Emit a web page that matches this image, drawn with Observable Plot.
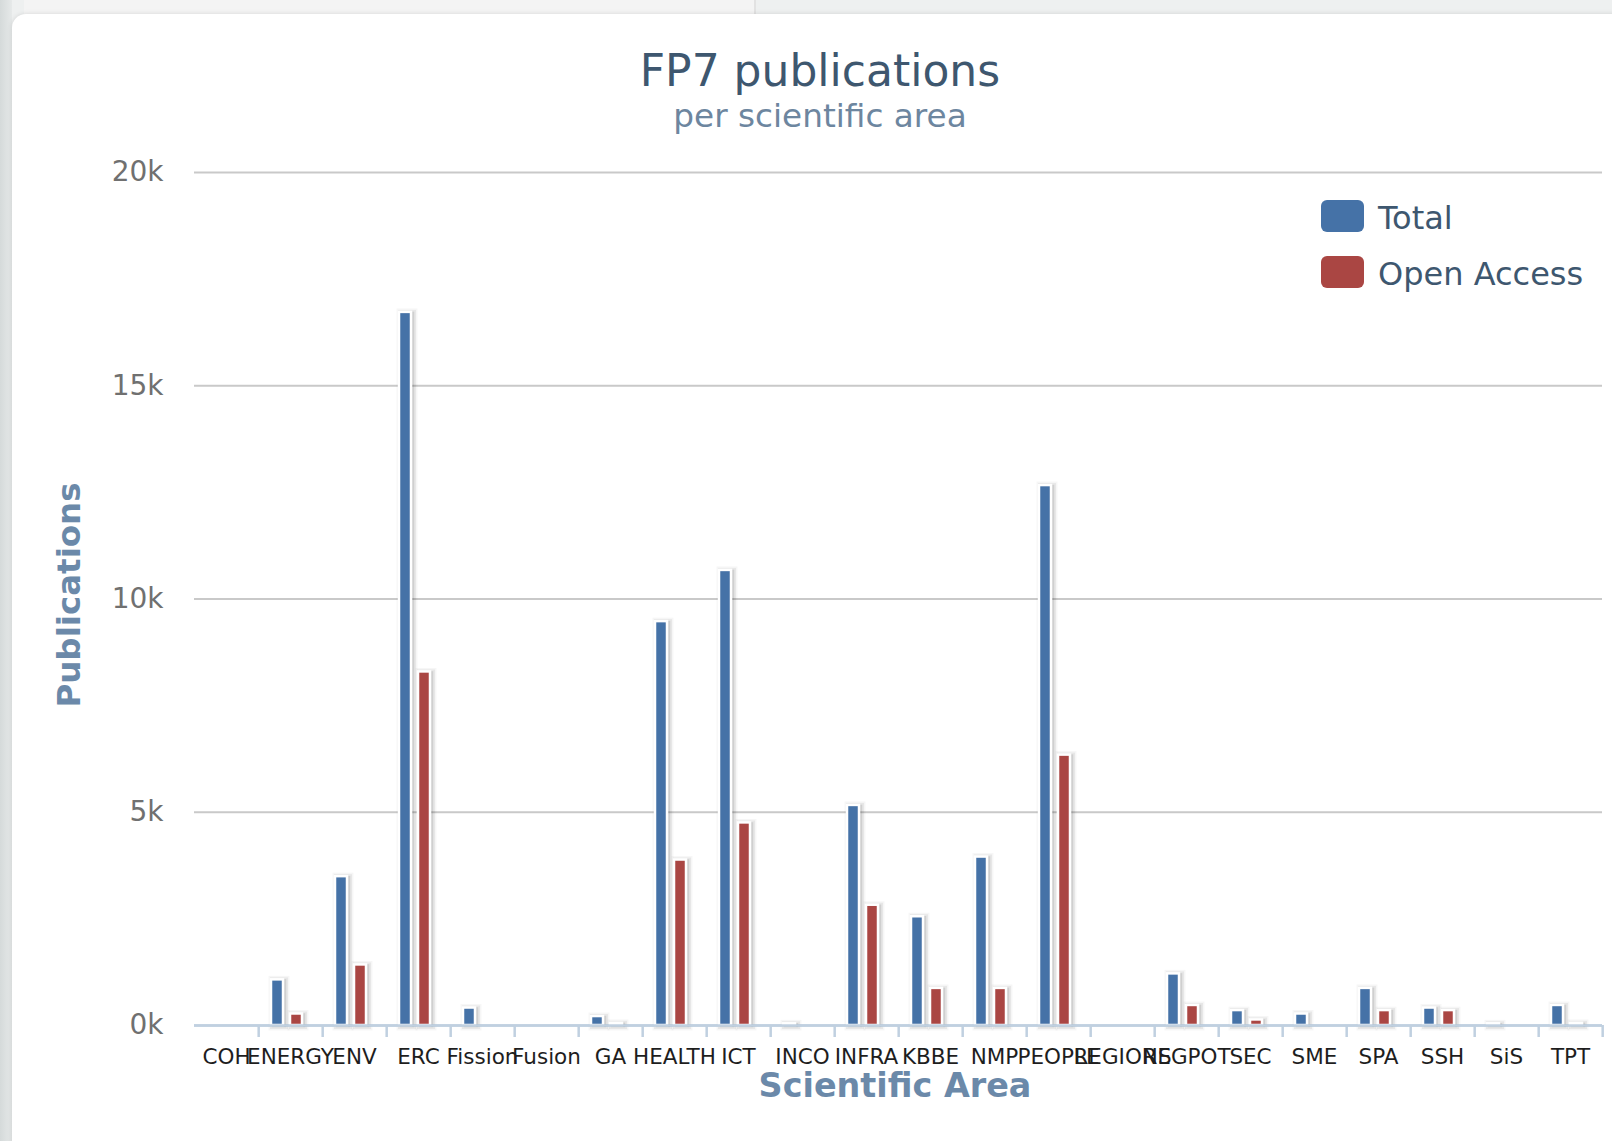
<!DOCTYPE html>
<html>
<head>
<meta charset="utf-8">
<script src="https://cdn.jsdelivr.net/npm/d3@7"></script>
<script src="https://cdn.jsdelivr.net/npm/@observablehq/plot@0.6"></script>
<style>
  html, body { margin: 0; padding: 0; }
  body { width: 1612px; height: 1141px; overflow: hidden; position: relative;
         background: #eef0f0; font-family: "DejaVu Sans", sans-serif; }
  #leftstrip { position: absolute; left: 0; top: 0; width: 12px; height: 1141px;
               background: linear-gradient(to right, #d5dada, #e6e9e9); }
  #backcard { position: absolute; left: 24px; top: -30px; width: 730px; height: 44px;
              background: #f4f4f4; border-right: 2px solid #e2e2e2; }
  #card { position: absolute; left: 12px; top: 14px; width: 1660px; height: 1180px;
          background: #fff; border-radius: 14px; box-shadow: 0 0 5px rgba(0,0,0,0.12); }
  .abs { position: absolute; white-space: nowrap; line-height: 1; }
  #title { left: 0; width: 1640px; text-align: center; top: 49px; font-size: 44px; color: #3E576F; }
  #subtitle { left: 0; width: 1640px; text-align: center; top: 100px; font-size: 32.7px; color: #6D869F; }
  #chart { position: absolute; left: 0; top: 140px; }
  #ytitle { left: 69px; top: 595px; font-size: 32.5px; font-weight: bold; color: #6b89a9;
            transform: translate(-50%, -50%) rotate(-90deg); }
  #xtitle { left: 0; width: 1790px; text-align: center; top: 1069px; font-size: 33.4px; font-weight: bold; color: #6b89a9; }
  .legend-item { position: absolute; left: 1321px; height: 32px; }
  .legend-swatch { position: absolute; left: 0; top: 0; width: 43px; height: 32px; border-radius: 6px; }
  .legend-label { position: absolute; left: 57px; top: 2px; font-size: 32px; color: #3E576F; line-height: 1; white-space: nowrap; }
</style>
</head>
<body>
<div id="leftstrip"></div>
<div id="backcard"></div>
<div id="card"></div>
<div id="title" class="abs"></div>
<div id="subtitle" class="abs"></div>
<div id="chart"></div>
<div id="ytitle" class="abs"></div>
<div id="xtitle" class="abs"></div>
<div id="legend"></div>
<script>
// ---- Data ----
const titleText = "FP7 publications";
const subtitleText = "per scientific area";
const xAxisTitle = "Scientific Area";
const yAxisTitle = "Publications";

const categories = ["COH","ENERGY","ENV","ERC","Fission","Fusion","GA","HEALTH","ICT","INCO","INFRA","KBBE","NMP","PEOPLE","REGIONS","REGPOT","SEC","SME","SPA","SSH","SiS","TPT"];
const seriesNames = ["Total", "Open Access"];
const seriesColors = ["#4572A7", "#AA4643"];
const totalValues      = [0, 1070, 3490, 16720, 410, 0, 210, 9470, 10670, 40, 5160, 2550, 3950, 12660, 0, 1210, 350, 270, 870, 410, 40, 470];
const openAccessValues = [0,  270, 1420,  8290,   0, 0,  50, 3880,  4750,  0, 2820,  870,  870,  6340, 0,  470, 130,   0, 350, 350,  0,  50];
const yTicks = [0, 5000, 10000, 15000, 20000];

// ---- Table built from the arrays ----
const data = categories.flatMap((c, i) => [
  {category: c, series: seriesNames[0], value: totalValues[i]},
  {category: c, series: seriesNames[1], value: openAccessValues[i]}
]).filter(d => d.value > 0);

// ---- Text ----
document.getElementById("title").textContent = titleText;
document.getElementById("subtitle").textContent = subtitleText;
document.getElementById("xtitle").textContent = xAxisTitle;
document.getElementById("ytitle").textContent = yAxisTitle;

// ---- Legend ----
const legend = document.getElementById("legend");
seriesNames.forEach((name, i) => {
  const item = document.createElement("div");
  item.className = "legend-item";
  item.style.top = (200 + i * 56) + "px";
  const sw = document.createElement("div");
  sw.className = "legend-swatch";
  sw.style.background = seriesColors[i];
  const lab = document.createElement("div");
  lab.className = "legend-label";
  lab.textContent = name;
  item.appendChild(sw); item.appendChild(lab);
  legend.appendChild(item);
});

// ---- Chart ----
const W = 1612, H = 1001, mL = 190, mR = 6;
const step = (W - mL - mR) / categories.length;
const barOpts = {fx: "category", x: "series", y: "value"};
const shadowLayers = [
  {w: 9, o: 0.035},
  {w: 6, o: 0.06},
  {w: 2.5, o: 0.1}
];

const chart = Plot.plot({
  width: W,
  height: H,
  marginLeft: mL,
  marginRight: mR,
  marginTop: 32,
  marginBottom: 116,
  style: {fontFamily: "DejaVu Sans, sans-serif", background: "transparent", overflow: "visible"},
  fx: {domain: categories, padding: 0, label: null},
  x: {domain: seriesNames, paddingInner: 0.385, paddingOuter: 0.8, align: 0.4, axis: null},
  y: {domain: [0, 20000], label: null},
  color: {domain: seriesNames, range: seriesColors},
  marks: [
    // baseline in every category facet (keeps all facets present)
    Plot.ruleY(categories, {fx: d => d, y: () => 0, stroke: "#C0D0E0", strokeWidth: 2.5}),
    Plot.gridY(yTicks.filter(t => t > 0), {stroke: "#c9c9c9", strokeOpacity: 1, strokeWidth: 2}),
    ...shadowLayers.map(s => Plot.barY(data, {...barOpts, fill: "none", stroke: "#000", strokeOpacity: s.o, strokeWidth: s.w, dx: 2, dy: 1})),
    Plot.barY(data, {...barOpts, fill: "series", stroke: "#fff", strokeWidth: 2.5}),
    Plot.ruleY(categories, {fx: d => d, y: () => 0, stroke: "#C0D0E0", strokeWidth: 2.5}),
    Plot.axisY(yTicks, {facetAnchor: "left", tickSize: 0, tickPadding: 31, tickFormat: d => (d / 1000) + "k", fontSize: 28, fill: "#707070", label: null}),
    Plot.axisFx({anchor: "bottom", text: null, tickSize: 12, dx: step / 2, stroke: "#C0D0E0", strokeWidth: 2.5, label: null}),
    Plot.axisFx({anchor: "bottom", tickSize: 0, tickPadding: 23, fontSize: 21.5, fill: "#1e1e1e", label: null})
  ]
});
document.getElementById("chart").appendChild(chart);
</script>
</body>
</html>
